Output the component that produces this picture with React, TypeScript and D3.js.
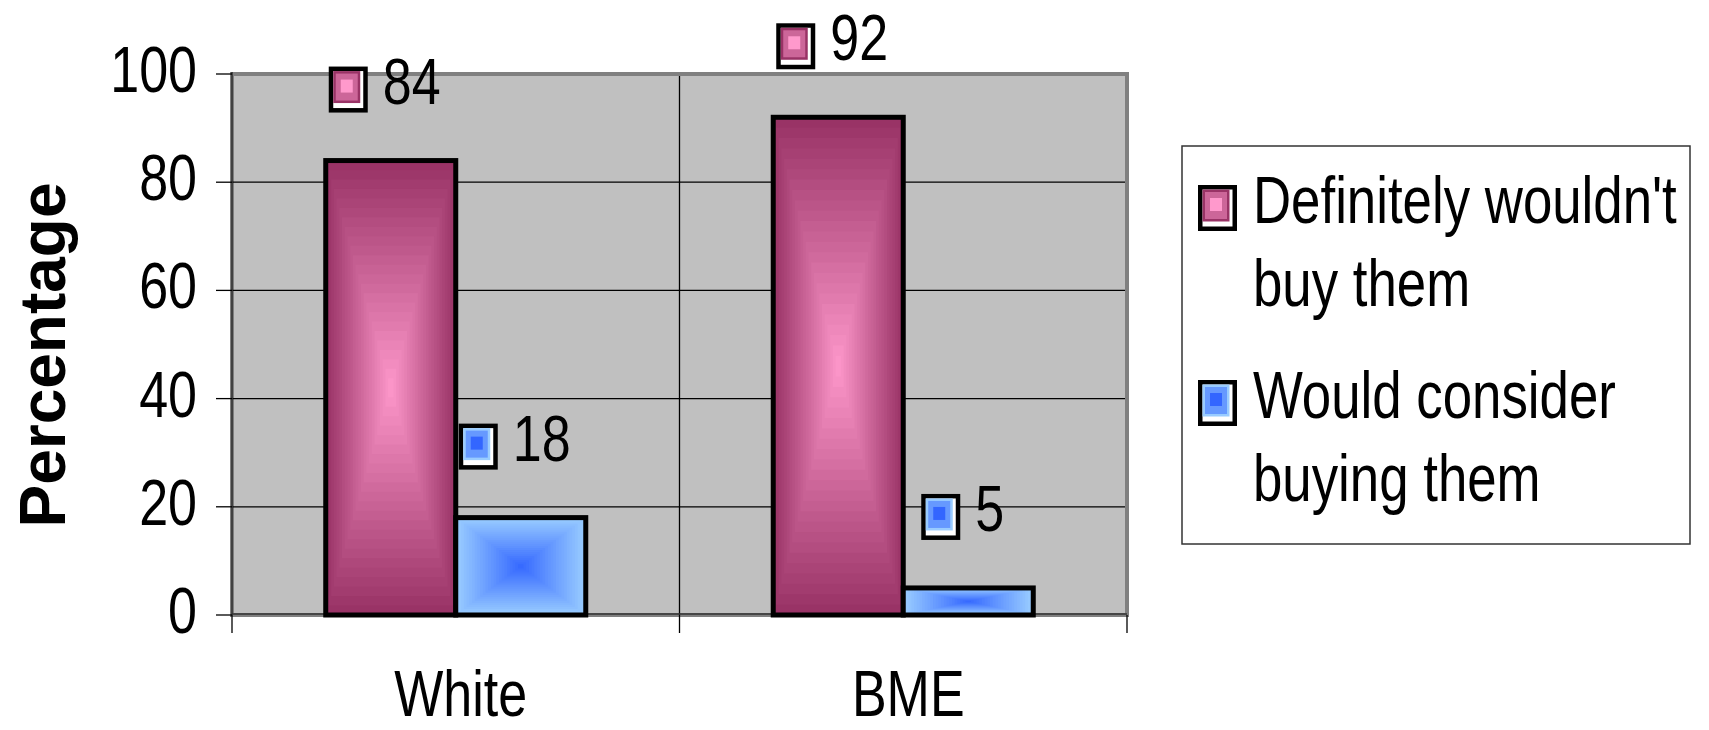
import React from "react";
import * as d3 from "d3";

const categories = ["White", "BME"];
const seriesNames = ["Definitely wouldn't buy them", "Would consider buying them"];
const definitelyWouldnt = [84, 92];
const wouldConsider = [18, 5];
const yTicks = [0, 20, 40, 60, 80, 100];
const legendLines = [
  ["Definitely wouldn't", "buy them"],
  ["Would consider", "buying them"],
];
const yAxisTitle = "Percentage";

const W = 1709;
const H = 730;
const FONT = "'Liberation Sans', Arial, Helvetica, sans-serif";
const SX = 0.8;

const palettes = [
  { edge: "#993366", center: "#FF99CC", mid: "#CC6699" },
  { edge: "#99CCFF", center: "#3366FF", mid: "#6699FF" },
];

function GradRect({ x, y, w, h, edge, center, steps = 24 }) {
  const interp = d3.interpolateRgb(edge, center);
  const items = d3.range(steps).map((i) => {
    const t = i / steps;
    return (
      <rect
        key={i}
        x={x + (t * w) / 2}
        y={y + (t * h) / 2}
        width={Math.max(0, w * (1 - t))}
        height={Math.max(0, h * (1 - t))}
        fill={interp(t)}
      />
    );
  });
  return <g>{items}</g>;
}

function Marker({ x, y, p }) {
  const w = 39;
  const h = 46;
  return (
    <g>
      <rect x={x} y={y} width={w} height={h} fill="#000" />
      <rect x={x + 4.5} y={y + 4.5} width={w - 9} height={h - 9} fill="#fff" />
      <rect x={x + 4.5} y={y + 4.5} width={w - 12} height={h - 14} fill={p.edge} />
      <rect x={x + 7} y={y + 7} width={w - 17} height={h - 19} fill={p.mid} />
      <rect x={x + 12} y={y + 13} width={w - 27} height={h - 33} fill={p.center} />
    </g>
  );
}

function SText({ x, y, children, size = 65, anchor = "start", weight = "normal" }) {
  return (
    <text
      transform={`translate(${x},${y}) scale(${SX},1)`}
      fontFamily={FONT}
      fontSize={size}
      fontWeight={weight}
      textAnchor={anchor}
      fill="#000"
    >
      {children}
    </text>
  );
}

export default function App() {
  const plotL = 232;
  const plotR = 1127;
  const plotT = 74;
  const plotB = 615;

  const y = d3.scaleLinear().domain([0, 100]).range([plotB, plotT]);
  const x0 = d3.scaleBand().domain(categories).range([plotL, plotR]).padding(0);
  const x1 = d3
    .scaleBand()
    .domain(seriesNames)
    .range([0, x0.bandwidth()])
    .paddingInner(0)
    .paddingOuter(0.721);

  const seriesValues = [definitelyWouldnt, wouldConsider];
  const bars = [];
  seriesValues.forEach((vals, si) => {
    vals.forEach((v, ci) => {
      bars.push({
        si,
        ci,
        v,
        x: x0(categories[ci]) + x1(seriesNames[si]),
        w: x1.bandwidth(),
      });
    });
  });

  const tickBottom = 633;

  return (
    <svg
      width={W}
      height={H}
      style={{ position: "absolute", left: 0, top: 0, display: "block", background: "#fff" }}
    >
      <rect x={0} y={0} width={W} height={H} fill="#fff" />
      {/* plot area */}
      <rect
        x={plotL}
        y={plotT}
        width={plotR - plotL}
        height={plotB - plotT}
        fill="#C0C0C0"
        stroke="#808080"
        strokeWidth={4}
      />
      {/* gridlines */}
      {yTicks
        .filter((t) => t !== 0 && t !== 100)
        .map((t) => (
          <line key={t} x1={plotL} x2={plotR - 2} y1={y(t)} y2={y(t)} stroke="#000" strokeWidth={1.3} />
        ))}
      {/* category separators and ticks */}
      {[plotL, x0(categories[1]), plotR].map((xx, i) => (
        <line
          key={i}
          x1={xx}
          x2={xx}
          y1={i === 1 ? plotT + 2 : plotB}
          y2={tickBottom}
          stroke="#000"
          strokeWidth={1.3}
        />
      ))}
      {/* axes */}
      <line x1={plotL} x2={plotL} y1={plotT - 2} y2={plotB} stroke="#333" strokeWidth={1.6} />
      <line x1={plotL} x2={plotR} y1={plotB - 1} y2={plotB - 1} stroke="#333" strokeWidth={1.6} />
      {yTicks.map((t) => (
        <g key={t}>
          <line x1={216} x2={plotL} y1={y(t)} y2={y(t)} stroke="#000" strokeWidth={1.3} />
          <SText x={197} y={y(t) + 18} anchor="end">
            {t}
          </SText>
        </g>
      ))}
      {/* bars */}
      {bars.map((b, i) => {
        const p = palettes[b.si];
        const top = y(b.v);
        return (
          <g key={i}>
            <GradRect x={b.x} y={top} w={b.w} h={plotB - top} edge={p.edge} center={p.center} />
            <rect
              x={b.x}
              y={top}
              width={b.w}
              height={plotB - top}
              fill="none"
              stroke="#000"
              strokeWidth={5}
            />
          </g>
        );
      })}
      {/* data labels */}
      {bars.map((b, i) => {
        const p = palettes[b.si];
        const top = y(b.v);
        const cx = b.x + b.w / 2;
        const tw = String(b.v).length * 30;
        const gw = 39 + 15 + tw;
        const left = cx - 5 - gw / 2;
        return (
          <g key={i}>
            <Marker x={left} y={top - 94} p={p} />
            <SText x={left + 54} y={top - 57}>
              {b.v}
            </SText>
          </g>
        );
      })}
      {/* category labels */}
      {categories.map((c) => (
        <SText key={c} x={x0(c) + x0.bandwidth() / 2 + 5} y={716} anchor="middle">
          {c}
        </SText>
      ))}
      {/* y axis title */}
      <text
        transform={`translate(65,355) rotate(-90)`}
        fontFamily={FONT}
        fontSize={64}
        fontWeight="bold"
        textAnchor="middle"
        fill="#000"
      >
        {yAxisTitle}
      </text>
      {/* legend */}
      <rect x={1182} y={146} width={508} height={398} fill="#fff" stroke="#333" strokeWidth={1.5} />
      {legendLines.map((lines, si) => {
        const base = si === 0 ? 223 : 418;
        return (
          <g key={si}>
            <Marker x={1198} y={base - 38} p={palettes[si]} />
            {lines.map((ln, li) => (
              <SText key={li} x={1253} y={base + li * 83} size={66}>
                {ln}
              </SText>
            ))}
          </g>
        );
      })}
    </svg>
  );
}
